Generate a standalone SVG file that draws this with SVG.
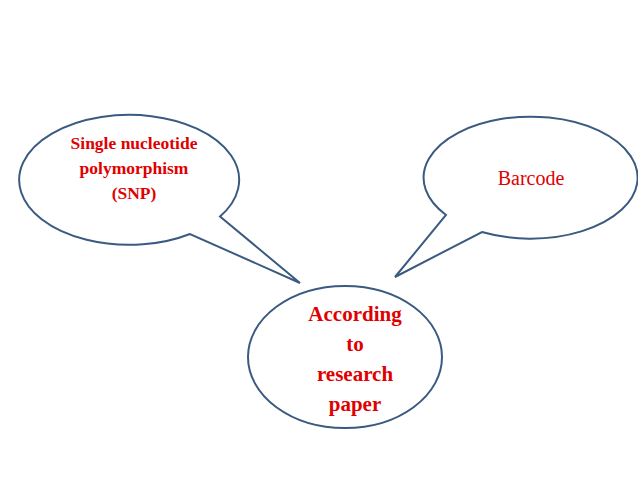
<svg xmlns="http://www.w3.org/2000/svg" width="638" height="479" viewBox="0 0 638 479">
<style>
.b{fill:#fff;stroke:#3a5a80;stroke-width:2}
.t{font-family:"Liberation Serif",serif;fill:#e00000;text-anchor:middle}
</style>
<rect width="638" height="479" fill="#fff"/>
<g id="snp">
<path class="b" d="M220,216.5 A110,65 0 1 0 190,234 L300,283 Z"/>
<text class="t" font-weight="bold" font-size="17.5"><tspan x="134" y="149">Single nucleotide</tspan><tspan x="134" y="174">polymorphism</tspan><tspan x="134" y="199">(SNP)</tspan></text>
</g>
<g id="barcode">
<path class="b" d="M446,215 A107,61 0 1 1 482,232 L395,277 Z"/>
<text class="t" font-size="20" x="531" y="185">Barcode</text>
</g>
<g id="paper">
<ellipse class="b" cx="345" cy="357" rx="97" ry="71"/>
<text class="t" font-weight="bold" font-size="21"><tspan x="355" y="321">According</tspan><tspan x="355" y="351">to</tspan><tspan x="355" y="381">research</tspan><tspan x="355" y="411">paper</tspan></text>
</g>
<g id="connectors"/>
</svg>
